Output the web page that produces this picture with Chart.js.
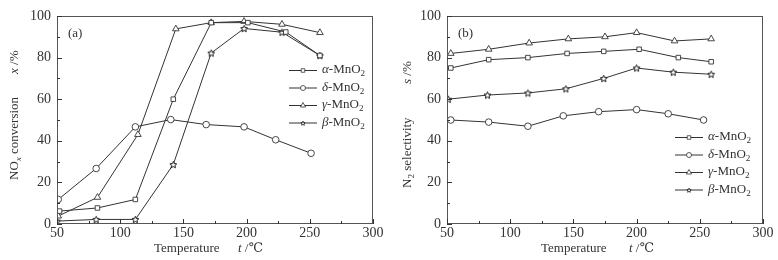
<!DOCTYPE html>
<html>
<head>
<meta charset="utf-8">
<script src="https://cdn.jsdelivr.net/npm/chart.js@4.4.0/dist/chart.umd.min.js"></script>
<style>
  html, body { margin: 0; padding: 0; background: #fff; }
  #wrap { width: 778px; height: 260px; position: relative; }
  .box { position: absolute; top: 0; height: 260px; }
</style>
</head>
<body>
<div id="wrap">
  <div class="box" style="left:0;width:390px"><canvas id="chartA"></canvas></div>
  <div class="box" style="left:390px;width:388px"><canvas id="chartB"></canvas></div>
</div>
<script>
// ===== DATA =====
const xTicks = [50, 100, 150, 200, 250, 300];
const yTicks = [0, 20, 40, 60, 80, 100];

// (a) NOx conversion x/%
const alphaT_a = [52, 82, 112, 142, 172, 201, 231, 258];
const alphaX   = [6.2, 7.7, 11.8, 60, 96.8, 96.8, 92.3, 81];
const deltaT_a = [51, 81, 112, 140, 168, 198, 223, 251];
const deltaX   = [11.8, 26.7, 46.7, 50.2, 47.8, 46.7, 40.5, 34];
const gammaT_a = [51, 82, 114, 144, 172, 198, 228, 258];
const gammaX   = [3.8, 12.8, 43, 93.8, 96.8, 97.4, 96, 92];
const betaT_a  = [50, 81, 112, 142, 172, 198, 228, 258];
const betaX    = [1.4, 2.2, 2.2, 28.6, 82.2, 94, 92.2, 81];

// (b) N2 selectivity s/%
const alphaT_b = [53, 83, 114, 145, 174, 202, 233, 259];
const alphaS   = [75, 79, 80, 82, 83, 84, 80, 78];
const deltaT_b = [53, 83, 114, 142, 170, 200, 225, 253];
const deltaS   = [50, 49, 47, 52, 54, 55, 53, 50];
const gammaT_b = [53, 83, 115, 146, 175, 200, 230, 259];
const gammaS   = [82, 84, 87, 89, 90, 92, 88, 89];
const betaT_b  = [51, 82, 114, 144, 174, 200, 229, 259];
const betaS    = [60, 62, 63, 65, 70, 75, 73, 72];

const seriesNames = ["α", "δ", "γ", "β"];

// ===== STYLE =====
const INK = "#333";
const SERIF = "'Liberation Serif', 'DejaVu Serif', serif";

// small hollow 5-point star for the β series
function makeStar(r, lw) {
  const c = document.createElement("canvas");
  const s = Math.ceil(r * 2 + 3);
  c.width = s; c.height = s;
  const g = c.getContext("2d");
  g.beginPath();
  for (let i = 0; i < 10; i++) {
    const rad = i % 2 === 0 ? r : r * 0.45;
    const a = -Math.PI / 2 + i * Math.PI / 5;
    const px = s / 2 + rad * Math.cos(a), py = s / 2 + rad * Math.sin(a) + 0.4;
    if (i === 0) g.moveTo(px, py); else g.lineTo(px, py);
  }
  g.closePath();
  g.fillStyle = "#fff"; g.fill();
  g.strokeStyle = "#111"; g.lineWidth = lw; g.stroke();
  return c;
}
const starImg = makeStar(3.6, 1);
const starSmall = makeStar(2.3, 0.8);
const markers = ["rect", "circle", "triangle", starImg];
const legendMarkers = ["rect", "circle", "triangle", starSmall];
const markerRadius = [3.2, 3.3, 3.8, 4];

function zip(xs, ys) { return xs.map((x, i) => ({ x: x, y: ys[i] })); }

function makeDatasets(list) {
  return list.map((d, i) => ({
    label: seriesNames[i] + "-MnO2",
    data: zip(d[0], d[1]),
    borderColor: INK,
    borderWidth: 1,
    pointStyle: markers[i],
    pointRadius: markerRadius[i],
    pointBackgroundColor: "#fff",
    pointBorderColor: INK,
    pointBorderWidth: 0.9,
    tension: 0
  }));
}

// draw text made of parts: {t, it (italic), sub}
function drawRich(ctx, parts, x, y, size) {
  for (const p of parts) {
    const fs = p.sub ? size * 0.7 : size;
    ctx.font = (p.it ? "italic " : "") + fs + "px " + SERIF;
    ctx.fillText(p.t, x, p.sub ? y + size * 0.28 : y);
    x += ctx.measureText(p.t).width;
  }
}

// frame, inward ticks, titles and legend
const decor = {
  id: "decor",
  afterDraw(chart, args, o) {
    const ctx = chart.ctx;
    const a = chart.chartArea;
    const sx = chart.scales.x, sy = chart.scales.y;
    ctx.save();
    ctx.strokeStyle = "#555";
    ctx.lineWidth = 1;
    ctx.strokeRect(a.left + 0.5, a.top + 0.5, a.right - a.left - 1, a.bottom - a.top - 1);
    ctx.strokeStyle = INK;
    ctx.beginPath();
    for (let v = 50; v <= 300; v += 25) {
      const px = Math.round(sx.getPixelForValue(v)) + 0.5;
      const len = v % 50 === 0 ? 5 : 3;
      ctx.moveTo(px, a.bottom); ctx.lineTo(px, a.bottom - len);
    }
    for (let v = 0; v <= 100; v += 10) {
      const py = Math.round(sy.getPixelForValue(v)) + 0.5;
      const len = v % 20 === 0 ? 5 : 3;
      ctx.moveTo(a.left, py); ctx.lineTo(a.left + len, py);
    }
    ctx.stroke();

    ctx.fillStyle = INK;
    ctx.textBaseline = "middle";
    ctx.textAlign = "left";
    // panel label
    ctx.font = "13px " + SERIF;
    ctx.fillText(o.panel, a.left + 11, 34);

    // x title
    drawRich(ctx, [{ t: "Temperature" }], a.left + o.xTitle, 249, 13);
    drawRich(ctx, [{ t: "t", it: true }, { t: " /℃" }], a.left + o.xUnit, 249, 13);

    // y title, rotated, in two pieces
    ctx.save();
    ctx.translate(o.yTitleX, 0);
    ctx.rotate(-Math.PI / 2);
    drawRich(ctx, o.yTitle1, -o.yStart, 0, 13);
    drawRich(ctx, o.yTitle2, -o.yUnit, 0, 13);
    ctx.restore();

    // legend
    o.names.forEach((n, i) => {
      const ly = o.legY + i * 17.5;
      const lx = o.legX;
      ctx.beginPath();
      ctx.moveTo(lx, ly + 0.5); ctx.lineTo(lx + 28, ly + 0.5);
      ctx.lineWidth = 1; ctx.strokeStyle = INK; ctx.stroke();
      ctx.fillStyle = "#fff";
      ctx.lineWidth = 0.8;
      Chart.helpers.drawPoint(ctx, {
        pointStyle: legendMarkers[i], rotation: 0,
        radius: i === 2 ? 3 : 2.5, borderWidth: 0.8
      }, lx + 14, ly + 0.5);
      ctx.strokeStyle = INK;
      ctx.fillStyle = INK;
      drawRich(ctx, [{ t: n, it: true }, { t: "-MnO" }, { t: "2", sub: true }], lx + 33, ly, 13);
    });
    ctx.restore();
  }
};

function makeChart(id, list, opts, padRight) {
  return new Chart(document.getElementById(id), {
    type: "line",
    data: { datasets: makeDatasets(list) },
    options: {
      responsive: true,
      maintainAspectRatio: false,
      animation: false,
      layout: { padding: { left: 0, right: padRight, top: 16, bottom: 0 } },
      plugins: { legend: { display: false }, tooltip: { enabled: false }, decor: opts },
      scales: {
        x: {
          type: "linear", min: 50, max: 300,
          afterBuildTicks: s => { s.ticks = xTicks.map(v => ({ value: v })); },
          afterFit: s => { s.height = 36; },
          grid: { display: false, drawTicks: false, tickLength: 0 }, border: { display: false },
          ticks: { color: INK, padding: 1, font: { family: SERIF, size: 14 }, maxRotation: 0 }
        },
        y: {
          min: 0, max: 100,
          afterBuildTicks: s => { s.ticks = yTicks.map(v => ({ value: v })); },
          afterFit: s => { s.width = 57; },
          grid: { display: false, drawTicks: false, tickLength: 0 }, border: { display: false },
          ticks: { color: INK, padding: 6, font: { family: SERIF, size: 14 } }
        }
      }
    },
    plugins: [decor]
  });
}

makeChart("chartA",
  [[alphaT_a, alphaX], [deltaT_a, deltaX], [gammaT_a, gammaX], [betaT_a, betaX]],
  {
    panel: "(a)", names: seriesNames, legX: 289, legY: 70, yTitleX: 15, yStart: 180, yUnit: 74,
    xTitle: 97, xUnit: 181,
    yTitle1: [{ t: "NO" }, { t: "x", it: true, sub: true }, { t: " conversion" }],
    yTitle2: [{ t: "x", it: true }, { t: " /%" }]
  }, 17);

makeChart("chartB",
  [[alphaT_b, alphaS], [deltaT_b, deltaS], [gammaT_b, gammaS], [betaT_b, betaS]],
  {
    panel: "(b)", names: seriesNames, legX: 285, legY: 137, yTitleX: 18, yStart: 188, yUnit: 84,
    xTitle: 94, xUnit: 182,
    yTitle1: [{ t: "N" }, { t: "2", sub: true }, { t: " selectivity" }],
    yTitle2: [{ t: "s", it: true }, { t: " /%" }]
  }, 15);
</script>
</body>
</html>
